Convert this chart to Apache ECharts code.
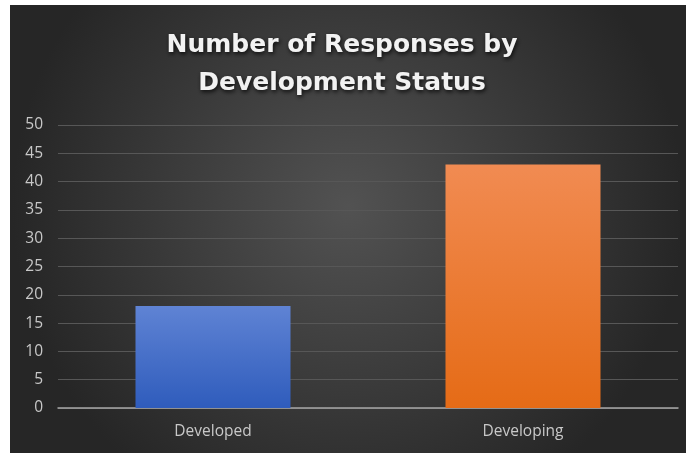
<!DOCTYPE html>
<html>
<head>
<meta charset="utf-8">
<style>
  html, body { margin: 0; padding: 0; background: #ffffff; }
  #chart { position: absolute; left: 10px; top: 5px; width: 676px; height: 448px; }
</style>
<script src="https://cdn.jsdelivr.net/npm/echarts@6/dist/echarts.min.js"></script>
</head>
<body>
<div id="chart"></div>
<script>
// Survey responses split by development status
const titleLines = ['Number of Responses by', 'Development Status'];
const categories = ['Developed', 'Developing'];
const responses = [18, 43];
const barTopColors = ['#5f83d4', '#f18b52'];
const barBottomColors = ['#2f5cbc', '#e56b16'];

const chart = echarts.init(document.getElementById('chart'));

chart.setOption({
  backgroundColor: {
    type: 'radial', x: 0.5, y: 0.45, r: 0.75,
    colorStops: [
      { offset: 0, color: '#525252' },
      { offset: 1, color: '#262626' }
    ]
  },
  title: {
    text: titleLines.join('\n'),
    left: 327,
    top: 16,
    textAlign: 'center',
    textStyle: {
      color: '#f2f2f2',
      fontFamily: 'DejaVu Sans',
      fontWeight: 'bold',
      fontSize: 25,
      lineHeight: 38,
      textShadowColor: 'rgba(0,0,0,0.8)',
      textShadowBlur: 4,
      textShadowOffsetX: 1,
      textShadowOffsetY: 2
    }
  },
  grid: { left: 48, right: 8, top: 120, bottom: 45, outerBoundsMode: 'none', containLabel: false },
  xAxis: {
    type: 'category',
    data: categories,
    axisLine: { lineStyle: { color: '#a6a6a6', width: 1.5 } },
    axisTick: { show: false },
    axisLabel: {
      color: '#c8c8c8',
      fontFamily: 'Open Sans',
      fontSize: 15.5,
      margin: 16
    }
  },
  yAxis: {
    type: 'value',
    min: 0,
    max: 50,
    interval: 5,
    axisLine: { show: false },
    axisTick: { show: false },
    splitLine: { lineStyle: { color: '#575757', width: 1 } },
    axisLabel: {
      color: '#c8c8c8',
      fontFamily: 'Open Sans',
      fontSize: 15.5,
      margin: 15
    }
  },
  series: [{
    type: 'bar',
    barWidth: '50%',
    data: responses.map((v, i) => ({
      value: v,
      itemStyle: {
        color: {
          type: 'linear', x: 0, y: 0, x2: 0, y2: 1,
          colorStops: [
            { offset: 0, color: barTopColors[i] },
            { offset: 1, color: barBottomColors[i] }
          ]
        },
        shadowColor: 'rgba(0,0,0,0.45)',
        shadowBlur: 4,
        shadowOffsetX: 1,
        shadowOffsetY: 1
      }
    }))
  }]
});
</script>
</body>
</html>
